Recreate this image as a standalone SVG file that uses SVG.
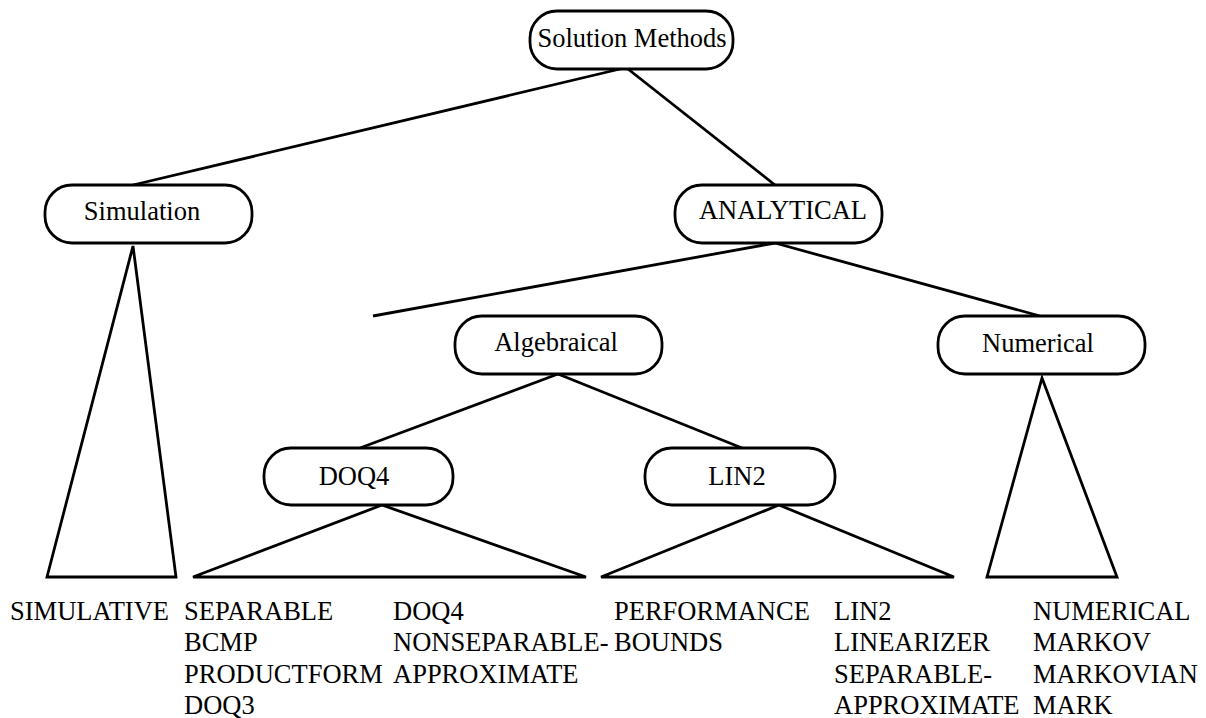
<svg xmlns="http://www.w3.org/2000/svg" width="1206" height="718" viewBox="0 0 1206 718">
  <style>
    .box { fill: #ffffff; stroke: #000000; stroke-width: 2.8; }
    .edge { fill: none; stroke: #000000; stroke-width: 2.8; stroke-linejoin: miter; }
    .lbl { fill: #000000; text-anchor: middle; }
    .leaf { fill: #000000; }
  </style>
  <rect width="1206" height="718" fill="#ffffff"/>

  <!-- connectors and subtree triangles -->
  <g id="connectors">
    <line class="edge" x1="620" y1="69" x2="133" y2="185"/>
    <line class="edge" x1="628" y1="69" x2="775" y2="185"/>
    <line class="edge" x1="775" y1="243" x2="373" y2="316"/>
    <line class="edge" x1="775" y1="243" x2="1040" y2="316"/>
    <line class="edge" x1="558" y1="374" x2="360" y2="448"/>
    <line class="edge" x1="558" y1="374" x2="742" y2="448"/>
    <polygon class="edge" points="133,246 176,577 47,577"/>
    <polygon class="edge" points="382,505 586,577 193,577"/>
    <polygon class="edge" points="779,505 954,577 601,577"/>
    <polygon class="edge" points="1042,378 1117,577 987,577"/>
  </g>

  <g font-family="Liberation Serif, Tinos, DejaVu Serif, serif" font-size="26.5">
    <g id="node-solution-methods">
      <rect class="box" x="530" y="11" width="203" height="58" rx="27" ry="27"/>
      <text class="lbl" x="632" y="47">Solution Methods</text>
    </g>
    <g id="node-simulation">
      <rect class="box" x="45" y="185" width="207" height="58" rx="27" ry="27"/>
      <text class="lbl" x="142" y="220">Simulation</text>
    </g>
    <g id="node-analytical">
      <rect class="box" x="675" y="185" width="207" height="58" rx="27" ry="27"/>
      <text class="lbl" x="783" y="219">ANALYTICAL</text>
    </g>
    <g id="node-algebraical">
      <rect class="box" x="455" y="316" width="207" height="58" rx="27" ry="27"/>
      <text class="lbl" x="556" y="351">Algebraical</text>
    </g>
    <g id="node-numerical">
      <rect class="box" x="938" y="316" width="207" height="58" rx="27" ry="27"/>
      <text class="lbl" x="1038" y="352">Numerical</text>
    </g>
    <g id="node-doq4">
      <rect class="box" x="264" y="448" width="189" height="57" rx="27" ry="27"/>
      <text class="lbl" x="354" y="485">DOQ4</text>
    </g>
    <g id="node-lin2">
      <rect class="box" x="645" y="448" width="190" height="57" rx="27" ry="27"/>
      <text class="lbl" x="737" y="485">LIN2</text>
    </g>
  </g>

  <!-- leaf name lists under each subtree -->
  <g font-family="Liberation Serif, Tinos, DejaVu Serif, serif" font-size="26.5">
    <g id="leaves-simulation">
      <text class="leaf" x="10" y="620">SIMULATIVE</text>
    </g>
    <g id="leaves-doq4">
      <text class="leaf" x="184" y="620">SEPARABLE</text>
      <text class="leaf" x="184" y="651">BCMP</text>
      <text class="leaf" x="184" y="683">PRODUCTFORM</text>
      <text class="leaf" x="184" y="714">DOQ3</text>
      <text class="leaf" x="393" y="620">DOQ4</text>
      <text class="leaf" x="393" y="651">NONSEPARABLE-</text>
      <text class="leaf" x="393" y="683">APPROXIMATE</text>
    </g>
    <g id="leaves-lin2">
      <text class="leaf" x="614" y="620">PERFORMANCE</text>
      <text class="leaf" x="614" y="651">BOUNDS</text>
      <text class="leaf" x="834" y="620">LIN2</text>
      <text class="leaf" x="834" y="651">LINEARIZER</text>
      <text class="leaf" x="834" y="683">SEPARABLE-</text>
      <text class="leaf" x="834" y="714">APPROXIMATE</text>
    </g>
    <g id="leaves-numerical">
      <text class="leaf" x="1033" y="620">NUMERICAL</text>
      <text class="leaf" x="1033" y="651">MARKOV</text>
      <text class="leaf" x="1033" y="683">MARKOVIAN</text>
      <text class="leaf" x="1033" y="714">MARK</text>
    </g>
  </g>
</svg>
